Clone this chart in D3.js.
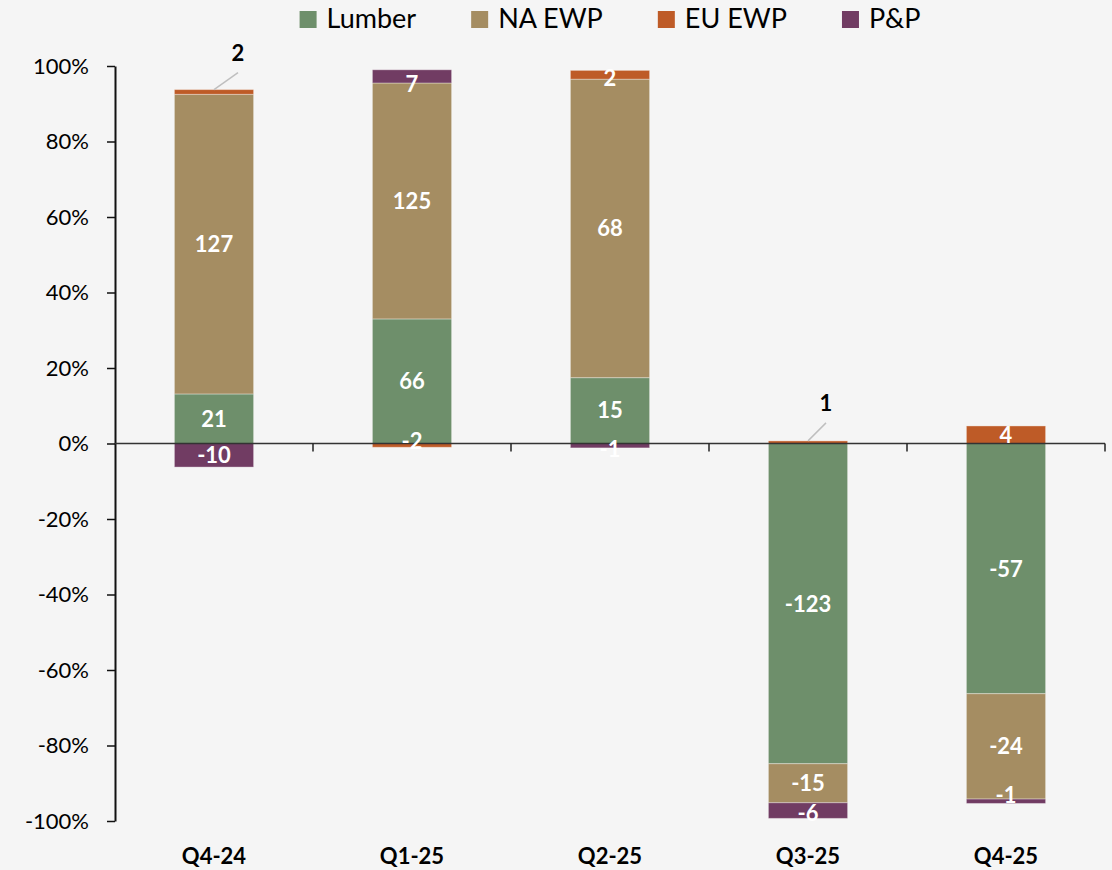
<!DOCTYPE html>
<html>
<head>
<meta charset="utf-8">
<script src="https://cdn.jsdelivr.net/npm/d3@7"></script>
<style>
  html, body { margin: 0; padding: 0; background: #f5f5f5; }
  svg { display: block; font-family: Lato, "Liberation Sans", sans-serif; }
</style>
</head>
<body>
<svg id="chart" width="1112" height="870"></svg>
<script>
// Quarterly contribution by segment (values shown on the bars)
const quarters = ["Q4-24", "Q1-25", "Q2-25", "Q3-25", "Q4-25"];
const seriesNames = ["Lumber", "NA EWP", "EU EWP", "P&P"];
const lumber = [21, 66, 15, -123, -57];
const naEwp  = [127, 125, 68, -15, -24];
const euEwp  = [2, -2, 2, 1, 4];
const pp     = [-10, 7, -1, -6, -1];
const yTicks = [1, 0.8, 0.6, 0.4, 0.2, 0, -0.2, -0.4, -0.6, -0.8, -1];

const colors = {
  "Lumber": "#6e8f6b",
  "NA EWP": "#a58d62",
  "EU EWP": "#be5b27",
  "P&P": "#713c63"
};

// Tiny segments get their label lifted above the bar with a leader line
const calloutOffsets = {
  "EU EWP|Q4-24": { dx: 24, dy: -17 },
  "EU EWP|Q3-25": { dx: 18, dy: -18 }
};
// Small vertical nudges for labels sitting on thin segments
const labelNudge = {
  "P&P|Q1-25": 8, "EU EWP|Q2-25": 3, "P&P|Q4-25": -6, "EU EWP|Q1-25": -4,
  "P&P|Q3-25": 2, "P&P|Q2-25": 3
};

const raw = { "Lumber": lumber, "NA EWP": naEwp, "EU EWP": euEwp, "P&P": pp };

// Each segment is its share of the quarter's total absolute movement
const rows = quarters.map((q, i) => {
  const total = d3.sum(seriesNames, s => Math.abs(raw[s][i]));
  const row = { quarter: q };
  seriesNames.forEach(s => { row[s] = raw[s][i] / total; row[s + "_v"] = raw[s][i]; });
  return row;
});

const stack = d3.stack().keys(seriesNames).offset(d3.stackOffsetDiverging);
const layers = stack(rows);

const svg = d3.select("#chart");
const x = d3.scaleBand().domain(quarters).range([115, 1105]).paddingInner(0.6).paddingOuter(0.3);
const y = d3.scaleLinear().domain([-1, 1]).range([821, 66]);

// Bars
const g = svg.append("g");
layers.forEach(layer => {
  g.selectAll(null)
    .data(layer)
    .join("rect")
    .attr("x", d => x(d.data.quarter))
    .attr("width", x.bandwidth())
    .attr("y", d => y(Math.max(d[0], d[1])))
    .attr("height", d => Math.abs(y(d[0]) - y(d[1])))
    .attr("fill", colors[layer.key])
    .attr("stroke", "rgba(255,255,255,0.35)")
    .attr("stroke-width", 1);
});

// Y axis (plain hyphen for negatives)
const pct = d3.format(".0%");
const yAxis = d3.axisLeft(y).tickValues(yTicks)
  .tickFormat(d => pct(d).replace("\u2212", "-"))
  .tickSize(8).tickSizeOuter(0);
const ya = svg.append("g").attr("transform", "translate(115,0)").call(yAxis);
ya.select(".domain").attr("stroke", "#111").attr("stroke-width", 2);
ya.selectAll(".tick line").attr("stroke", "#111").attr("stroke-width", 1.5);
ya.selectAll(".tick text").attr("font-size", 22).attr("fill", "#000").attr("x", -26)
  .attr("font-family", "Lato, sans-serif");

// Zero line with category ticks between bands
const xa = svg.append("g").attr("transform", `translate(0,${y(0)})`);
xa.append("line").attr("x1", 115).attr("x2", 1105).attr("stroke", "#333").attr("stroke-width", 1.5);
const step = x.step();
d3.range(1, quarters.length + 1).forEach(k => {
  const tx = 115 + k * step;
  xa.append("line").attr("x1", tx).attr("x2", tx).attr("y1", 0).attr("y2", 8)
    .attr("stroke", "#222").attr("stroke-width", 1.5);
});

// Category labels
svg.append("g").selectAll("text")
  .data(quarters).join("text")
  .attr("x", d => x(d) + x.bandwidth() / 2)
  .attr("y", 864)
  .attr("text-anchor", "middle")
  .attr("font-size", 22).attr("font-weight", 700).attr("fill", "#000")
  .text(d => d);

// Value labels
const lg = svg.append("g");
layers.forEach(layer => {
  layer.forEach(d => {
    const key = layer.key + "|" + d.data.quarter;
    const v = d.data[layer.key + "_v"];
    const cx = x(d.data.quarter) + x.bandwidth() / 2;
    const top = y(Math.max(d[0], d[1]));
    const bottom = y(Math.min(d[0], d[1]));
    const co = calloutOffsets[key];
    if (co) {
      lg.append("line")
        .attr("x1", cx).attr("y1", top)
        .attr("x2", cx + co.dx).attr("y2", top + co.dy)
        .attr("stroke", "#bfbfbf").attr("stroke-width", 1.5);
      lg.append("text")
        .attr("x", cx + co.dx)
        .attr("y", top + co.dy - 12)
        .attr("text-anchor", "middle")
        .attr("font-size", 22).attr("font-weight", 700).attr("fill", "#000")
        .text(v);
    } else {
      const mid = (top + bottom) / 2 + (labelNudge[key] || 0);
      lg.append("text")
        .attr("x", cx)
        .attr("y", mid)
        .attr("dy", "0.36em")
        .attr("text-anchor", "middle")
        .attr("font-size", 22).attr("font-weight", 700).attr("fill", "#fff")
        .text(v);
    }
  });
});

// Legend centred over the plot
const legend = svg.append("g");
const items = seriesNames.map(name => {
  const it = legend.append("g");
  it.append("rect").attr("width", 17).attr("height", 17).attr("y", 11).attr("fill", colors[name]);
  const t = it.append("text").attr("x", 27).attr("y", 28)
    .attr("font-size", 27).attr("fill", "#000").text(name);
  return { it, w: 27 + t.node().getComputedTextLength() };
});
const gap = 55;
const totalW = d3.sum(items, d => d.w) + gap * (items.length - 1);
let lx = (115 + 1105) / 2 - totalW / 2;
items.forEach(d => { d.it.attr("transform", `translate(${lx},0)`); lx += d.w + gap; });
</script>
</body>
</html>
